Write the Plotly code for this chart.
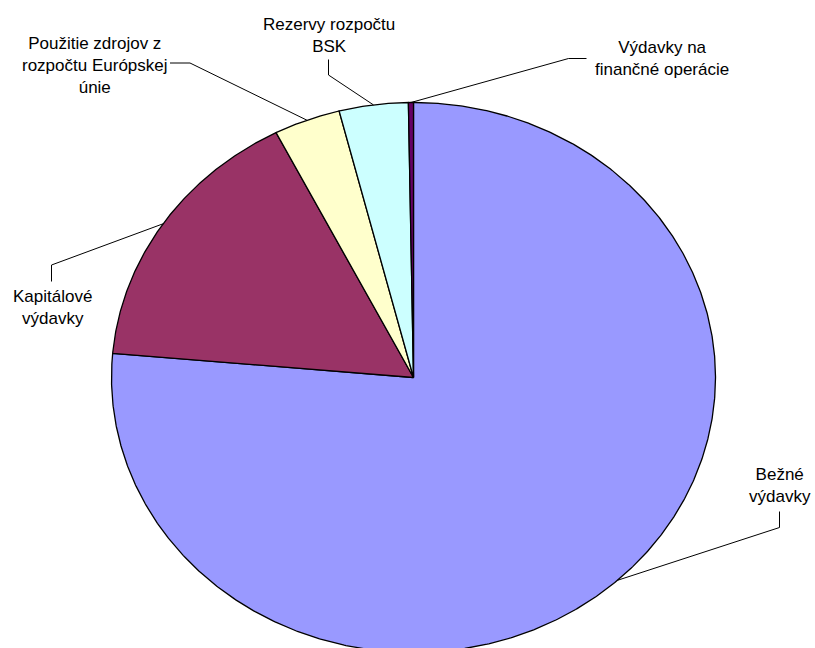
import numpy as np
import plotly.graph_objects as go

# Expenditure structure (share of total, %)
categories = [
    "Bežné výdavky",
    "Kapitálové výdavky",
    "Použitie zdrojov z rozpočtu Európskej únie",
    "Rezervy rozpočtu BSK",
    "Výdavky na finančné operácie",
]
shares = [76.40, 16.08, 3.56, 3.69, 0.27]
label_text = [
    "Bežné<br>výdavky",
    "Kapitálové<br>výdavky",
    "Použitie zdrojov z<br>rozpočtu Európskej<br>únie",
    "Rezervy rozpočtu<br>BSK",
    "Výdavky na<br>finančné operácie",
]
colors = ["#9999FF", "#993366", "#FFFFCC", "#CCFFFF", "#660066"]

# Page geometry: the pie is a unit circle stretched into an ellipse by the axes
W, H = 815, 648
CX, CY = 413.5, 377.5      # pie centre in pixels
RX, RY = 302.0, 275.0      # half-axes in pixels


def to_data(px, py):
    return (px - CX) / RX, (CY - py) / RY


# label centre and leader-line elbow points (pixels) for each category
label_pos = [(780, 485.5), (52, 307.5), (95, 65), (329, 35), (662, 58)]
leader_elbows = [
    [(779.5, 527.5), (779.5, 511.5)],
    [(51.5, 265), (51.5, 281.5)],
    [(190, 63), (170, 63)],
    [(328.5, 75), (328.5, 59.5)],
    [(568.5, 58.5), (586.5, 58.5)],
]

fig = go.Figure()

total = float(sum(shares))
edges = np.concatenate([[0.0], np.cumsum(shares)]) / total * 360.0

mids = []
for i, name in enumerate(categories):
    a0, a1 = edges[i], edges[i + 1]
    n = max(4, int((a1 - a0) * 3))
    theta = np.radians(np.linspace(a0, a1, n))
    xs = np.concatenate([[0.0], np.sin(theta), [0.0]])
    ys = np.concatenate([[0.0], np.cos(theta), [0.0]])
    fig.add_trace(go.Scatter(
        x=xs, y=ys, mode="lines", fill="toself",
        fillcolor=colors[i],
        line=dict(color="black", width=1.3),
        name=name, hoverinfo="name", showlegend=False,
    ))
    am = np.radians((a0 + a1) / 2)
    mids.append((np.sin(am), np.cos(am)))

# leader lines and labels
for i in range(len(categories)):
    mx, my = mids[i]
    pts = [to_data(*p) for p in leader_elbows[i]]
    fig.add_trace(go.Scatter(
        x=[mx] + [p[0] for p in pts],
        y=[my] + [p[1] for p in pts],
        mode="lines", line=dict(color="black", width=1),
        hoverinfo="skip", showlegend=False,
    ))
    lx, ly = to_data(*label_pos[i])
    fig.add_annotation(
        x=lx, y=ly, xref="x", yref="y", text=label_text[i],
        showarrow=False, xanchor="center", yanchor="middle", align="center",
        font=dict(family="Liberation Sans, Arial, sans-serif", size=17, color="black"),
    )

fig.update_xaxes(range=[-CX / RX, (W - CX) / RX], visible=False, fixedrange=True)
fig.update_yaxes(range=[(CY - H) / RY, CY / RY], visible=False, fixedrange=True)
fig.update_layout(
    width=W, height=H,
    margin=dict(l=0, r=0, t=0, b=0),
    paper_bgcolor="white", plot_bgcolor="white",
)

fig.write_html("out.html")
